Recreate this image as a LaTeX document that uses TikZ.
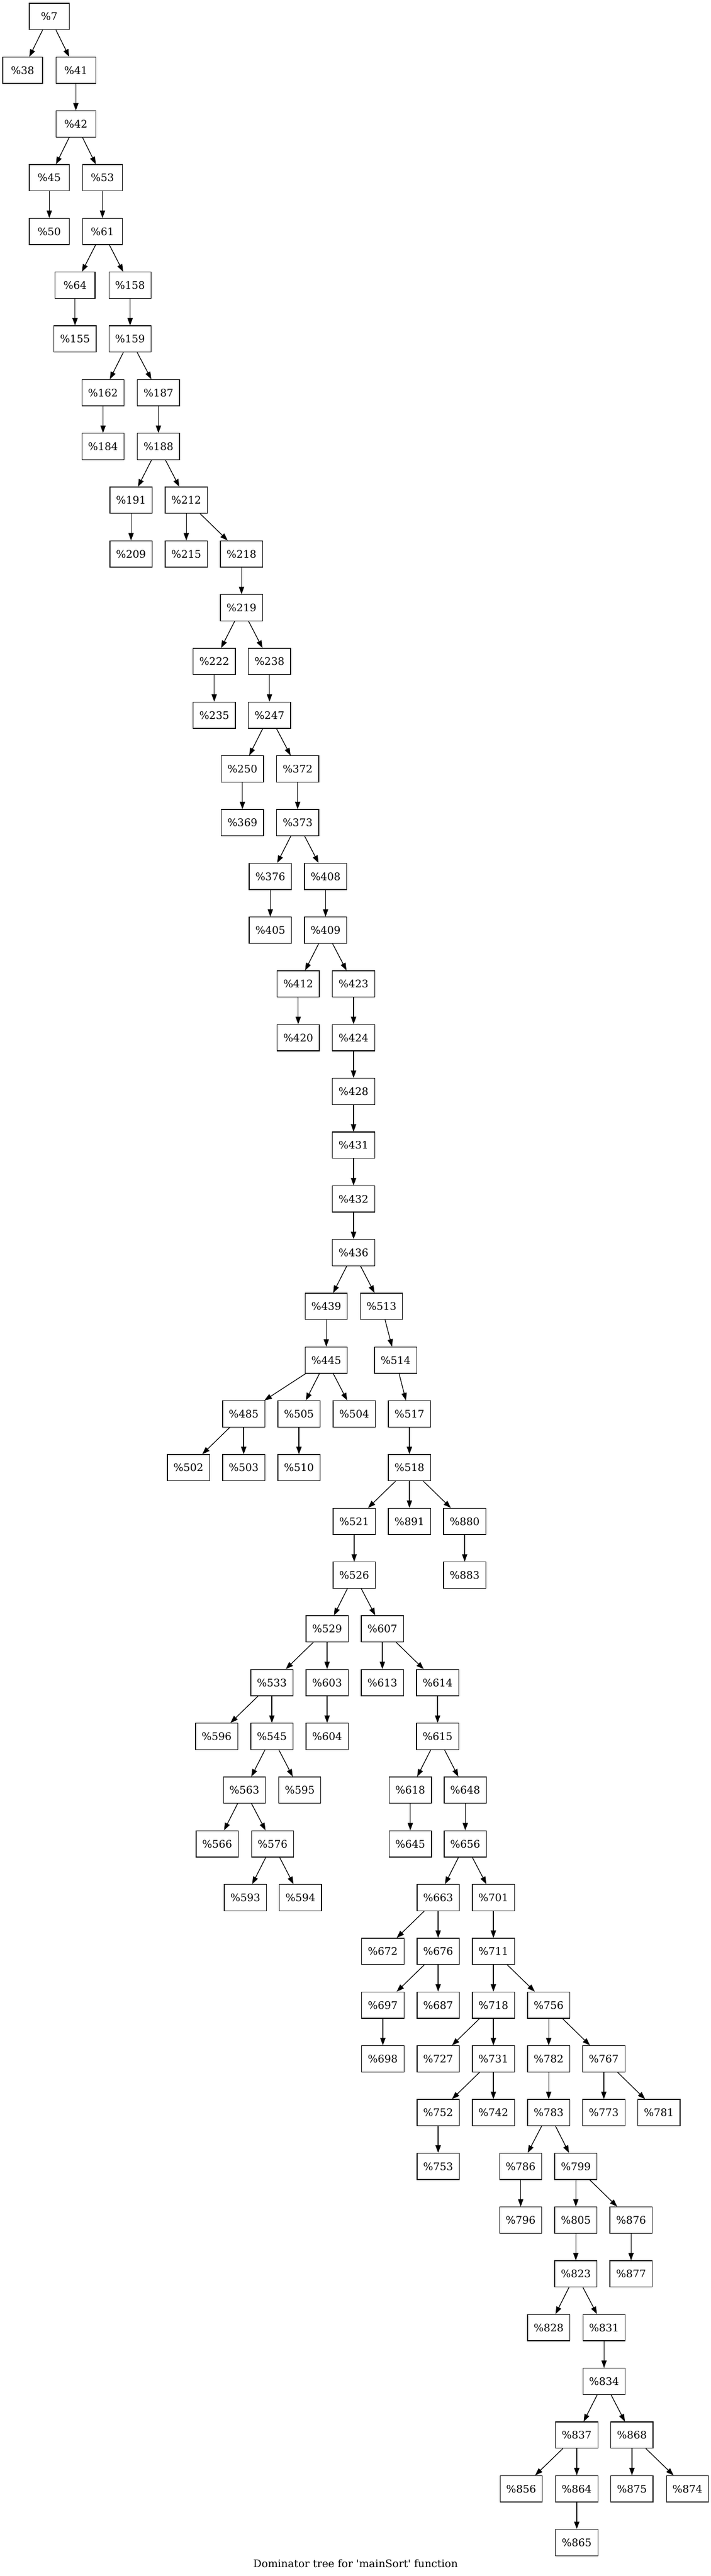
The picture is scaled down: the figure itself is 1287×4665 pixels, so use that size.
\documentclass[tikz,border=0pt]{standalone}
\usepackage{fontspec}
\setmainfont{DejaVu Serif}
\usetikzlibrary{arrows.meta}
\newcommand\rowY[1]{29.9+97.33*#1}
\begin{document}
\begin{tikzpicture}[x=1pt,y=-1pt,
  box/.style={draw, line width=1.3pt, minimum height=47.5pt, minimum width=76.4pt, inner sep=0pt,
    font=\fontsize{18.9}{22}\selectfont},
  sm/.style={minimum width=72.2pt},
  edge/.style={-{Triangle[length=13.5pt,width=9.5pt]}, line width=1.3pt}]
\fill[white] (0,0) rectangle (1287,4665);
\useasboundingbox (0,0) rectangle (1287,4665);
% row 0-4
\node[box,sm] (n7) at (89.2,{\rowY{0}}) {\%7};
\node[box,sm] (n38) at (41.0,{\rowY{1}}) {\%38};
\node[box,sm] (n41) at (137.3,{\rowY{1}}) {\%41};
\node[box,sm] (n42) at (137.3,{\rowY{2}}) {\%42};
\node[box,sm] (n45) at (89.2,{\rowY{3}}) {\%45};
\node[box,sm] (n53) at (185.5,{\rowY{3}}) {\%53};
\node[box,sm] (n50) at (89.2,{\rowY{4}}) {\%50};
\node[box,sm] (n61) at (185.5,{\rowY{4}}) {\%61};
\node[box,sm] (n64) at (135.8,{\rowY{5}}) {\%64};
\node[box] (n158) at (235.5,{\rowY{5}}) {\%158};
\node[box] (n155) at (135.8,{\rowY{6}}) {\%155};
\node[box] (n159) at (235.5,{\rowY{6}}) {\%159};
\node[box] (n162) at (186.5,{\rowY{7}}) {\%162};
\node[box] (n187) at (286.8,{\rowY{7}}) {\%187};
\node[box] (n184) at (186.5,{\rowY{8}}) {\%184};
\node[box] (n188) at (286.8,{\rowY{8}}) {\%188};
\node[box] (n191) at (237.2,{\rowY{9}}) {\%191};
\node[box] (n212) at (337.2,{\rowY{9}}) {\%212};
\node[box] (n209) at (237.2,{\rowY{10}}) {\%209};
\node[box] (n215) at (337.2,{\rowY{10}}) {\%215};
\node[box] (n218) at (437.2,{\rowY{10}}) {\%218};
\node[box] (n219) at (437.2,{\rowY{11}}) {\%219};
\node[box] (n222) at (387.8,{\rowY{12}}) {\%222};
\node[box] (n238) at (487.8,{\rowY{12}}) {\%238};
\node[box] (n235) at (387.8,{\rowY{13}}) {\%235};
\node[box] (n247) at (487.8,{\rowY{13}}) {\%247};
\node[box] (n250) at (438.8,{\rowY{14}}) {\%250};
\node[box] (n372) at (538.8,{\rowY{14}}) {\%372};
\node[box] (n369) at (438.8,{\rowY{15}}) {\%369};
\node[box] (n373) at (538.8,{\rowY{15}}) {\%373};
\node[box] (n376) at (489.3,{\rowY{16}}) {\%376};
\node[box] (n408) at (589.3,{\rowY{16}}) {\%408};
\node[box] (n405) at (489.3,{\rowY{17}}) {\%405};
\node[box] (n409) at (589.3,{\rowY{17}}) {\%409};
\node[box] (n412) at (539.8,{\rowY{18}}) {\%412};
\node[box] (n423) at (640.0,{\rowY{18}}) {\%423};
\node[box] (n420) at (539.8,{\rowY{19}}) {\%420};
\node[box] (n424) at (640.0,{\rowY{19}}) {\%424};
\node[box] (n428) at (640.0,{\rowY{20}}) {\%428};
\node[box] (n431) at (640.0,{\rowY{21}}) {\%431};
\node[box] (n432) at (640.0,{\rowY{22}}) {\%432};
\node[box] (n436) at (640.0,{\rowY{23}}) {\%436};
\node[box] (n439) at (590.6,{\rowY{24}}) {\%439};
\node[box] (n513) at (690.6,{\rowY{24}}) {\%513};
\node[box] (n445) at (590.6,{\rowY{25}}) {\%445};
\node[box] (n514) at (716.1,{\rowY{25}}) {\%514};
\node[box] (n485) at (441.1,{\rowY{26}}) {\%485};
\node[box] (n505) at (541.1,{\rowY{26}}) {\%505};
\node[box] (n504) at (641.1,{\rowY{26}}) {\%504};
\node[box] (n517) at (741.1,{\rowY{26}}) {\%517};
\node[box] (n502) at (341.1,{\rowY{27}}) {\%502};
\node[box] (n503) at (441.1,{\rowY{27}}) {\%503};
\node[box] (n510) at (541.1,{\rowY{27}}) {\%510};
\node[box] (n518) at (741.1,{\rowY{27}}) {\%518};
\node[box] (n521) at (641.1,{\rowY{28}}) {\%521};
\node[box] (n891) at (741.1,{\rowY{28}}) {\%891};
\node[box] (n880) at (841.1,{\rowY{28}}) {\%880};
\node[box] (n526) at (641.1,{\rowY{29}}) {\%526};
\node[box] (n883) at (841.1,{\rowY{29}}) {\%883};
\node[box] (n529) at (592.1,{\rowY{30}}) {\%529};
\node[box] (n607) at (692.1,{\rowY{30}}) {\%607};
\node[box] (n533) at (492.1,{\rowY{31}}) {\%533};
\node[box] (n603) at (592.1,{\rowY{31}}) {\%603};
\node[box] (n613) at (692.1,{\rowY{31}}) {\%613};
\node[box] (n614) at (792.1,{\rowY{31}}) {\%614};
\node[box] (n596) at (392.1,{\rowY{32}}) {\%596};
\node[box] (n545) at (492.1,{\rowY{32}}) {\%545};
\node[box] (n604) at (592.1,{\rowY{32}}) {\%604};
\node[box] (n615) at (792.1,{\rowY{32}}) {\%615};
\node[box] (n563) at (442.5,{\rowY{33}}) {\%563};
\node[box] (n595) at (542.6,{\rowY{33}}) {\%595};
\node[box] (n618) at (742.7,{\rowY{33}}) {\%618};
\node[box] (n648) at (842.2,{\rowY{33}}) {\%648};
\node[box] (n566) at (393.1,{\rowY{34}}) {\%566};
\node[box] (n576) at (493.5,{\rowY{34}}) {\%576};
\node[box] (n645) at (742.7,{\rowY{34}}) {\%645};
\node[box] (n656) at (842.2,{\rowY{34}}) {\%656};
\node[box] (n593) at (444.1,{\rowY{35}}) {\%593};
\node[box] (n594) at (543.9,{\rowY{35}}) {\%594};
\node[box] (n663) at (793.1,{\rowY{35}}) {\%663};
\node[box] (n701) at (893.1,{\rowY{35}}) {\%701};
\node[box] (n672) at (693.0,{\rowY{36}}) {\%672};
\node[box] (n676) at (793.1,{\rowY{36}}) {\%676};
\node[box] (n711) at (893.1,{\rowY{36}}) {\%711};
\node[box] (n697) at (693.0,{\rowY{37}}) {\%697};
\node[box] (n687) at (793.1,{\rowY{37}}) {\%687};
\node[box] (n718) at (893.1,{\rowY{37}}) {\%718};
\node[box] (n756) at (993.2,{\rowY{37}}) {\%756};
\node[box] (n698) at (693.0,{\rowY{38}}) {\%698};
\node[box] (n727) at (793.1,{\rowY{38}}) {\%727};
\node[box] (n731) at (893.1,{\rowY{38}}) {\%731};
\node[box] (n782) at (993.2,{\rowY{38}}) {\%782};
\node[box] (n767) at (1093.0,{\rowY{38}}) {\%767};
\node[box] (n752) at (793.1,{\rowY{39}}) {\%752};
\node[box] (n742) at (893.1,{\rowY{39}}) {\%742};
\node[box] (n783) at (993.2,{\rowY{39}}) {\%783};
\node[box] (n773) at (1093.0,{\rowY{39}}) {\%773};
\node[box] (n781) at (1192.7,{\rowY{39}}) {\%781};
\node[box] (n753) at (793.1,{\rowY{40}}) {\%753};
\node[box] (n786) at (942.5,{\rowY{40}}) {\%786};
\node[box] (n799) at (1042.3,{\rowY{40}}) {\%799};
\node[box] (n796) at (942.5,{\rowY{41}}) {\%796};
\node[box] (n805) at (1042.3,{\rowY{41}}) {\%805};
\node[box] (n876) at (1142.3,{\rowY{41}}) {\%876};
\node[box] (n823) at (1042.3,{\rowY{42}}) {\%823};
\node[box] (n877) at (1142.3,{\rowY{42}}) {\%877};
\node[box] (n828) at (993.2,{\rowY{43}}) {\%828};
\node[box] (n831) at (1093.4,{\rowY{43}}) {\%831};
\node[box] (n834) at (1093.4,{\rowY{44}}) {\%834};
\node[box] (n837) at (1044.0,{\rowY{45}}) {\%837};
\node[box] (n868) at (1143.9,{\rowY{45}}) {\%868};
\node[box] (n856) at (943.5,{\rowY{46}}) {\%856};
\node[box] (n864) at (1044.0,{\rowY{46}}) {\%864};
\node[box] (n875) at (1143.9,{\rowY{46}}) {\%875};
\node[box] (n874) at (1244.4,{\rowY{46}}) {\%874};
\node[box] (n865) at (1044.0,{\rowY{47}}) {\%865};
% caption
\node[anchor=base, inner sep=0pt, font=\fontsize{18.9}{22}\selectfont] (cap) at (643.6,4649.7)
  {Dominator tree for \textquotesingle mainSort\textquotesingle{} function};
% edges
\foreach \a/\b in {7/38,7/41,41/42,42/45,42/53,45/50,53/61,61/64,61/158,64/155,158/159,
  159/162,159/187,162/184,187/188,188/191,188/212,191/209,212/215,212/218,218/219,
  219/222,219/238,222/235,238/247,247/250,247/372,250/369,372/373,373/376,373/408,
  376/405,408/409,409/412,409/423,412/420,423/424,424/428,428/431,431/432,432/436,
  436/439,436/513,439/445,513/514,445/485,445/505,445/504,514/517,485/502,485/503,
  505/510,517/518,518/521,518/891,518/880,521/526,880/883,526/529,526/607,529/533,
  529/603,607/613,607/614,533/596,533/545,603/604,614/615,545/563,545/595,615/618,
  615/648,563/566,563/576,618/645,648/656,576/593,576/594,656/663,656/701,663/672,
  663/676,701/711,676/697,676/687,711/718,711/756,697/698,718/727,718/731,756/782,
  756/767,731/752,731/742,782/783,767/773,767/781,752/753,783/786,783/799,786/796,
  799/805,799/876,805/823,876/877,823/828,823/831,831/834,834/837,834/868,837/856,
  837/864,868/875,868/874,864/865}
  \draw[edge] (n\a) -- (n\b);
\end{tikzpicture}
\end{document}
